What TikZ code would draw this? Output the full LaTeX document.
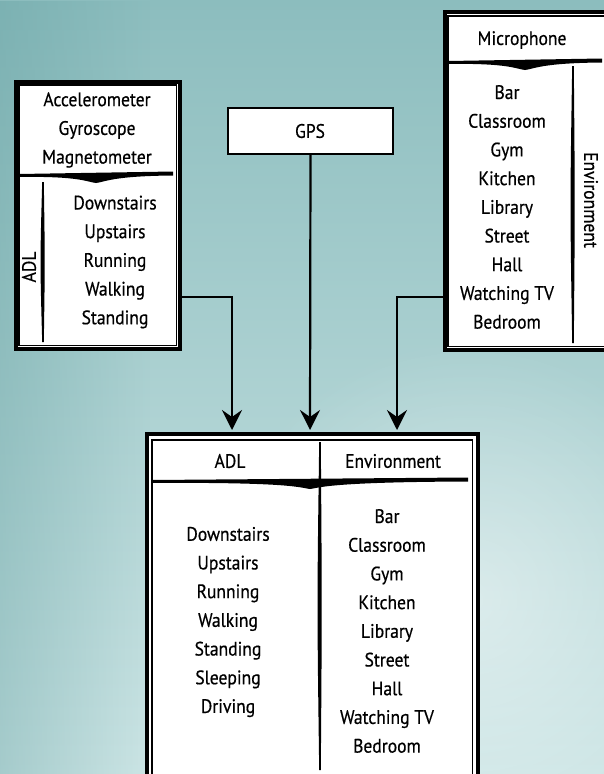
\documentclass[tikz,border=0pt]{standalone}
\usepackage{fontspec}
\setmainfont{PT Sans}[FakeStretch=0.9,FakeBold=0.5]
\usetikzlibrary{arrows.meta,fadings}
\definecolor{bgtop}{HTML}{8CBDBE}
\definecolor{bgmid}{HTML}{B6D7D7}
\definecolor{bgbot}{HTML}{CCE5E5}
\definecolor{bgdark}{HTML}{5E9C9D}
\tikzfading[name=softspot,inner color=transparent!0,outer color=transparent!100]
\newcommand\hswoosh[3]{%
  \fill (#1,#3-1) .. controls ({(#1+#2)/2},#3-2.5) .. (#2,#3-3.5) -- (#2,#3+0.5)
    .. controls ({(#1+#2)/2+16},#3+1) and ({(#1+#2)/2+9},#3+7) .. ({(#1+#2)/2},#3+8)
    .. controls ({(#1+#2)/2-9},#3+7) and ({(#1+#2)/2-16},#3+1) .. (#1,#3+2) -- cycle;}
\newcommand\vstroke[3]{%
  \fill (#1-0.8,#2) .. controls (#1-3,{(#2+#3)/2}) .. (#1-0.8,#3) -- (#1+0.8,#3)
    .. controls (#1+2,{(#2+#3)/2}) .. (#1+0.8,#2) -- cycle;}
\begin{document}
\begin{tikzpicture}[x=1pt,y=-1pt,
  frame/.style={draw=black,line width=3.5pt,fill=white,inner sep=0pt,anchor=north west},
  lbl/.style={font=\fontsize{19.5}{28.7}\selectfont,align=center,inner sep=0pt},
  conn/.style={line width=2.2pt,-{Stealth[length=20pt,width=20pt,inset=7pt]}}]
\useasboundingbox (0,0) rectangle (604,774);
% background
\shade[top color=bgtop,middle color=bgmid,bottom color=bgbot] (0,0) rectangle (604,774);
\fill[bgdark,opacity=0.35,path fading=east] (0,0) rectangle (150,774);
\fill[white,opacity=0.45,path fading=softspot] (470,600) circle (260);
% boxes
\node[frame,minimum width=164pt,minimum height=267pt] (leftbox) at (14,80) {};
\draw[line width=1.3pt] ([shift={(5pt,-5pt)}]leftbox.north west) rectangle ([shift={(-5pt,5pt)}]leftbox.south east);
\node[frame,minimum width=165pt,minimum height=338pt] (rightbox) at (443,10) {};
\draw[line width=1.3pt] ([shift={(5pt,-6pt)}]rightbox.north west) rectangle ([shift={(-5pt,5pt)}]rightbox.south east);
\node[frame,minimum width=331pt,minimum height=348pt] (bottombox) at (145,432) {};
\draw[line width=1.3pt] ([shift={(7pt,-8pt)}]bottombox.north west) rectangle ([shift={(-7pt,8pt)}]bottombox.south east);
\node[draw=black,fill=white,line width=2pt,minimum width=165pt,minimum height=46pt,anchor=north west,inner sep=0pt] (gpsbox) at (227,107) {};
% left box contents
\node[lbl] (sensors) at (97,130) {Accelerometer\\Gyroscope\\Magnetometer};
\hswoosh{19}{173}{175}
\vstroke{43}{182}{342}
\node[lbl,rotate=90] (adlA) at (29,267) {ADL};
\node[lbl] (adllistA) at (115,262) {Downstairs\\Upstairs\\Running\\Walking\\Standing};
% GPS
\node[lbl] (gps) at (310,131) {GPS};
% right box contents
\node[lbl] (mic) at (522,40) {Microphone};
\hswoosh{448}{602}{62}
\vstroke{573}{66}{343}
\node[lbl,rotate=-90] (envA) at (591,200) {Environment};
\node[lbl] (envlistA) at (507,207) {Bar\\Classroom\\Gym\\Kitchen\\Library\\Street\\Hall\\Watching TV\\Bedroom};
% bottom box contents
\node[lbl] (adlB) at (230,461) {ADL};
\node[lbl] (envB) at (393,461) {Environment};
\hswoosh{152}{468}{481}
\vstroke{320}{442}{770}
\node[lbl] (adllistB) at (228,622) {Downstairs\\Upstairs\\Running\\Walking\\Standing\\Sleeping\\Driving};
\node[lbl] (envlistB) at (387,631) {Bar\\Classroom\\Gym\\Kitchen\\Library\\Street\\Hall\\Watching TV\\Bedroom};
% connectors
\coordinate (lout) at (178,297);
\coordinate (rout) at (443,297);
\coordinate (bin1) at (232,430);
\coordinate (bin2) at (310,430);
\coordinate (bin3) at (397,430);
\draw[conn] (lout) -| (bin1);
\draw[conn] (gpsbox.south) -- (bin2);
\draw[conn] (rout) -| (bin3);
\end{tikzpicture}
\end{document}
